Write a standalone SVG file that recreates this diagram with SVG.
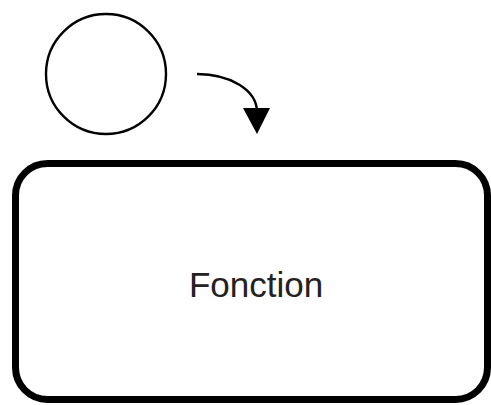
<svg xmlns="http://www.w3.org/2000/svg" width="491" height="405" viewBox="0 0 491 405">
<style>
.lbl{font-family:"Liberation Sans",Arial,sans-serif;font-size:35px;fill:#222;text-anchor:middle}
.ln{fill:none;stroke:#000;stroke-width:2.4}
</style>
<rect width="491" height="405" fill="#fff"/>
<g id="circle">
<circle cx="106" cy="74" r="60" fill="#fff" stroke="#000" stroke-width="2.4"/>
</g>
<g id="fonction">
<rect x="15.5" y="163.5" width="472" height="236" rx="32" fill="#fff" stroke="#000" stroke-width="7"/>
<text class="lbl" x="256" y="297">Fonction</text>
</g>
<g id="connectors">
<path class="ln" d="M197,74 C230,74 257,90 257,112"/>
<path d="M243,108 L270,108 L257,134 Z" fill="#000"/>
</g>
</svg>
